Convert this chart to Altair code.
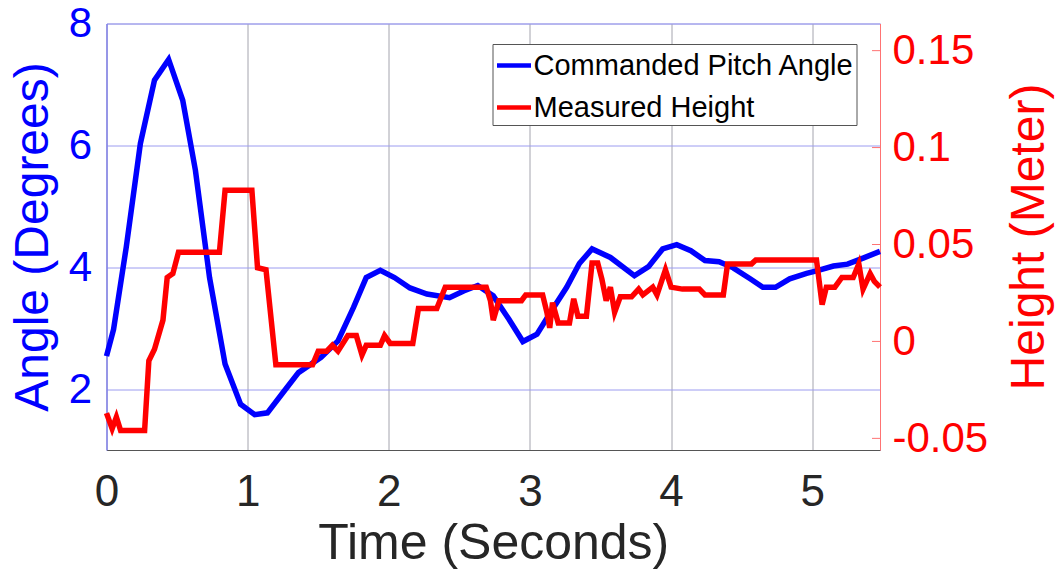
import altair as alt
import pandas as pd

# Commanded pitch angle (degrees) over time (s)
angle_time = [0.00, 0.05, 0.14, 0.24, 0.34, 0.44, 0.54, 0.63, 0.73, 0.84,
              0.95, 1.05, 1.14, 1.24, 1.36, 1.52, 1.64, 1.75, 1.84, 1.94,
              2.04, 2.15, 2.27, 2.43, 2.53, 2.63, 2.74, 2.85, 2.95, 3.05,
              3.16, 3.26, 3.35, 3.44, 3.57, 3.74, 3.84, 3.94, 4.04, 4.14,
              4.24, 4.34, 4.44, 4.56, 4.65, 4.74, 4.84, 4.96, 5.03, 5.15,
              5.25, 5.36, 5.48]
angle_deg = [2.54, 2.98, 4.33, 6.03, 7.07, 7.41, 6.74, 5.59, 3.83, 2.41,
             1.75, 1.58, 1.61, 1.91, 2.27, 2.52, 2.79, 3.34, 3.83, 3.95,
             3.83, 3.66, 3.56, 3.50, 3.61, 3.70, 3.53, 3.15, 2.78, 2.90,
             3.31, 3.67, 4.06, 4.30, 4.16, 3.86, 4.01, 4.30, 4.37, 4.27,
             4.11, 4.09, 3.99, 3.81, 3.67, 3.67, 3.81, 3.90, 3.94, 4.02,
             4.05, 4.15, 4.26]

# Measured height (m) over time (s)
height_time = [0.00, 0.04, 0.07, 0.10, 0.27, 0.30, 0.34, 0.40, 0.43, 0.47,
               0.51, 0.80, 0.84, 1.03, 1.07, 1.13, 1.20, 1.46, 1.50, 1.56,
               1.60, 1.64, 1.71, 1.77, 1.81, 1.84, 1.94, 1.97, 2.01, 2.17,
               2.21, 2.34, 2.40, 2.69, 2.72, 2.74, 2.78, 2.94, 2.97, 3.09,
               3.12, 3.14, 3.16, 3.20, 3.28, 3.31, 3.34, 3.40, 3.44, 3.48,
               3.51, 3.54, 3.57, 3.60, 3.64, 3.72, 3.77, 3.80, 3.87, 3.90,
               3.96, 4.00, 4.08, 4.20, 4.24, 4.37, 4.40, 4.57, 4.60, 5.03,
               5.07, 5.10, 5.16, 5.21, 5.29, 5.33, 5.36, 5.41, 5.44, 5.48]
height_m = [-0.037, -0.045, -0.039, -0.046, -0.046, -0.010, -0.004, 0.011, 0.033, 0.035,
            0.046, 0.046, 0.078, 0.078, 0.038, 0.037, -0.012, -0.012, -0.005, -0.005,
            -0.002, -0.005, 0.003, 0.003, -0.007, -0.002, -0.002, 0.003, -0.001, -0.001,
            0.017, 0.017, 0.028, 0.028, 0.021, 0.011, 0.021, 0.021, 0.024, 0.024,
            0.015, 0.007, 0.020, 0.0095, 0.0095, 0.022, 0.013, 0.013, 0.0405, 0.0405,
            0.032, 0.021, 0.028, 0.015, 0.023, 0.023, 0.027, 0.024, 0.028, 0.024,
            0.037, 0.028, 0.027, 0.027, 0.024, 0.024, 0.040, 0.040, 0.042, 0.042,
            0.019, 0.028, 0.028, 0.033, 0.033, 0.040, 0.027, 0.035, 0.031, 0.028]

series_names = ["Commanded Pitch Angle", "Measured Height"]
series_colors = ["#0000ff", "#ff0000"]
time_ticks = [0, 1, 2, 3, 4, 5]
angle_ticks = [2, 4, 6, 8]
height_ticks = [-0.05, 0, 0.05, 0.1, 0.15]

angle_df = pd.DataFrame({"t": angle_time, "v": angle_deg, "series": series_names[0]})
height_df = pd.DataFrame({"t": height_time, "h": height_m, "series": series_names[1]})
height_tick_df = pd.DataFrame({"h": height_ticks})

W, H = 773.5, 426.5
FONT = "Liberation Sans"

color = alt.Color(
    "series:N",
    scale=alt.Scale(domain=series_names, range=series_colors),
    legend=alt.Legend(
        title=None, orient="none", legendX=386, legendY=20.5,
        symbolType="stroke", symbolSize=1156, symbolStrokeWidth=4.5,
        labelFont=FONT, labelFontSize=29, labelColor="#000000",
        labelOffset=0, labelLimit=0, rowPadding=7, padding=2,
        fillColor="#ffffff", strokeColor="#555555",
    ),
)

x = alt.X(
    "t:Q",
    scale=alt.Scale(domain=[0, 5.48], nice=False, zero=False),
    axis=alt.Axis(
        values=time_ticks, format="d", title="Time (Seconds)",
        labelFont=FONT, labelFontSize=44, labelColor="#262626", labelPadding=20,
        labelFlush=False, labelOverlap=False,
        titleFont=FONT, titleFontSize=50, titleFontWeight="normal", titleColor="#262626",
        titleX=W / 2, titleY=108, titleBaseline="alphabetic",
        ticks=False, domainColor="#555555", domainWidth=1,
        grid=True, gridColor="#a4a4ae", gridWidth=1,
    ),
)

y_angle = alt.Y(
    "v:Q",
    scale=alt.Scale(domain=[1, 8], nice=False, zero=False),
    axis=alt.Axis(
        orient="left", values=angle_ticks, title="Angle (Degrees)",
        labelFont=FONT, labelFontSize=42, labelColor="#0000ff", labelPadding=15,
        labelFlush=False, labelOverlap=False,
        titleFont=FONT, titleFontSize=48, titleFontWeight="normal", titleColor="#0000ff",
        titleAngle=270, titleX=-59.5, titleY=213, titleAlign="center", titleBaseline="alphabetic",
        ticks=False, domainColor="#7373ff", domainWidth=1,
        grid=True, gridColor="#9c9cf0", gridWidth=1,
    ),
)

y_height = alt.Y(
    "h:Q",
    scale=alt.Scale(domain=[-0.056, 0.164], nice=False, zero=False),
    axis=alt.Axis(
        orient="right", values=height_ticks, labelExpr="toString(datum.value)",
        title="Height (Meter)",
        labelFont=FONT, labelFontSize=42, labelColor="#ff0000", labelPadding=12,
        labelFlush=False, labelOverlap=False,
        titleFont=FONT, titleFontSize=48, titleFontWeight="normal", titleColor="#ff0000",
        titleAngle=270, titleX=163, titleY=213, titleAlign="center", titleBaseline="alphabetic",
        ticks=False, domainColor="#ff7373", domainWidth=1, grid=False,
    ),
)

angle_line = alt.Chart(angle_df).mark_line(strokeWidth=5.5).encode(x=x, y=y_angle, color=color)

height_line = alt.Chart(height_df).mark_line(strokeWidth=5.5).encode(x=x, y=y_height, color=color)

# inward tick marks on the right-hand height axis
height_axis_ticks = alt.Chart(height_tick_df).mark_rule(color="#ff7373", strokeWidth=1).encode(
    x=alt.value(W - 8), x2=alt.value(W), y=y_height
)

chart = (
    alt.layer(angle_line, alt.layer(height_axis_ticks, height_line))
    .resolve_scale(y="independent")
    .properties(
        width=W, height=H,
        padding={"left": 106.5, "top": 23.5, "right": 176, "bottom": 119},
        autosize=alt.AutoSizeParams(type="none"),
        background="#ffffff",
    )
    .configure_view(stroke="#a3a3e0", strokeWidth=1)
)

chart.save("out.html", embed_options={"renderer": "svg", "actions": False})
